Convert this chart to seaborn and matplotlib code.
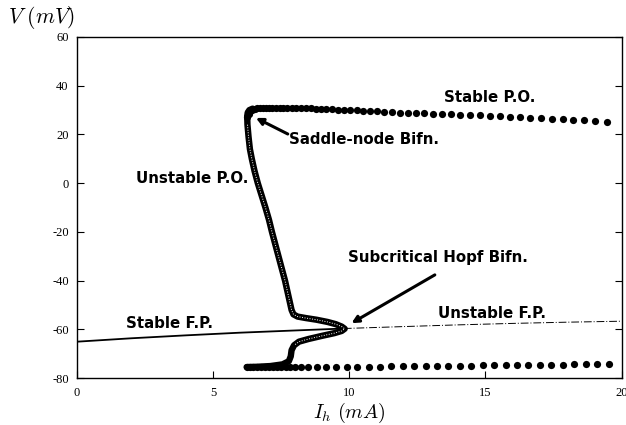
import matplotlib
matplotlib.use("Agg")
import matplotlib.pyplot as plt
import seaborn as sns
import pandas as pd

# Bifurcation data: membrane voltage V (mV) against bias current I_h (mA)

# Stable fixed point branch (up to the Hopf point)
fp_stable_I = [0.0, 2.0, 4.0, 6.0, 8.0, 9.8]
fp_stable_V = [-65.0, -63.6, -62.4, -61.3, -60.4, -59.6]

# Unstable fixed point branch (beyond the Hopf point)
fp_unstable_I = [9.8, 12.0, 14.0, 16.0, 18.0, 20.0]
fp_unstable_V = [-59.6, -58.8, -58.1, -57.5, -57.0, -56.6]

# Unstable periodic orbit: max V from the saddle-node down to the Hopf point,
# then min V back to the lower saddle-node
po_unstable_I = [6.45, 6.33, 6.27, 6.25, 6.26, 6.30, 6.35, 6.42, 6.52, 6.64,
                 6.78, 6.92, 7.05, 7.16, 7.28, 7.40, 7.52, 7.64, 7.74, 7.82,
                 7.88, 7.95, 8.10, 8.40, 8.80, 9.20, 9.50, 9.72, 9.83, 9.72,
                 9.45, 9.00, 8.50, 8.15, 7.97, 7.88, 7.85, 7.78, 7.55, 7.10,
                 6.60, 6.23]
po_unstable_V = [30.6, 30.0, 29.0, 27.5, 24.0, 19.0, 14.0, 10.0, 5.0, 0.0,
                 -5.0, -10.0, -15.0, -20.0, -25.0, -30.0, -35.0, -40.0, -45.0, -49.0,
                 -52.0, -53.8, -54.7, -55.3, -56.0, -56.9, -57.8, -58.8, -59.7, -60.6,
                 -61.5, -62.6, -63.9, -65.0, -66.5, -68.5, -71.0, -73.0, -74.3, -75.0,
                 -75.3, -75.4]

# Stable periodic orbit, maximum voltage
po_max_I = [6.25, 6.30, 6.36, 6.44, 6.52, 6.62, 6.72, 6.82, 6.93, 7.05,
            7.17, 7.30, 7.44, 7.58, 7.73, 7.89, 8.05, 8.22, 8.40, 8.58,
            8.77, 8.96, 9.16, 9.37, 9.58, 9.80, 10.03, 10.27, 10.51, 10.76,
            11.02, 11.29, 11.57, 11.85, 12.14, 12.44, 12.75, 13.07, 13.40, 13.74,
            14.08, 14.43, 14.79, 15.15, 15.52, 15.89, 16.27, 16.65, 17.04, 17.43,
            17.83, 18.23, 18.63, 19.04, 19.45]
po_max_V = [27.0, 28.6, 29.6, 30.2, 30.6, 30.8, 30.9, 31.0, 31.0, 31.0,
            31.0, 31.0, 31.0, 30.9, 30.9, 30.9, 30.8, 30.8, 30.7, 30.7,
            30.6, 30.5, 30.4, 30.3, 30.2, 30.1, 30.0, 29.9, 29.7, 29.6,
            29.5, 29.3, 29.2, 29.0, 28.9, 28.8, 28.7, 28.5, 28.4, 28.2,
            28.1, 27.9, 27.8, 27.6, 27.5, 27.3, 27.1, 26.9, 26.7, 26.5,
            26.3, 26.0, 25.8, 25.5, 25.2]

# Stable periodic orbit, minimum voltage
po_min_I = [6.23, 6.35, 6.48, 6.62, 6.76, 6.90, 7.05, 7.20, 7.35, 7.50,
            7.66, 7.82, 8.02, 8.24, 8.50, 8.80, 9.15, 9.52, 9.90, 10.30,
            10.71, 11.12, 11.54, 11.96, 12.38, 12.80, 13.22, 13.64, 14.06, 14.48,
            14.90, 15.32, 15.74, 16.16, 16.58, 17.00, 17.42, 17.84, 18.26, 18.68,
            19.10, 19.55]
po_min_V = [-75.4, -75.4, -75.4, -75.4, -75.4, -75.4, -75.4, -75.4, -75.4, -75.4,
            -75.4, -75.4, -75.4, -75.4, -75.4, -75.4, -75.4, -75.4, -75.3, -75.3,
            -75.2, -75.2, -75.1, -75.1, -75.0, -75.0, -74.9, -74.9, -74.8, -74.8,
            -74.7, -74.7, -74.6, -74.6, -74.5, -74.5, -74.4, -74.4, -74.3, -74.3,
            -74.2, -74.1]

x_ticks = [0, 5, 10, 15, 20]
y_ticks = [-80, -60, -40, -20, 0, 20, 40, 60]

sns.set_style("ticks")
plt.rcParams["mathtext.fontset"] = "cm"
plt.rcParams["text.color"] = "black"

fig = plt.figure(figsize=(6.26, 4.25), dpi=100)
ax = fig.add_axes([0.123, 0.110, 0.870, 0.803])

fp_s = pd.DataFrame({"I": fp_stable_I, "V": fp_stable_V})
fp_u = pd.DataFrame({"I": fp_unstable_I, "V": fp_unstable_V})
po_u = pd.DataFrame({"I": po_unstable_I, "V": po_unstable_V})
po_hi = pd.DataFrame({"I": po_max_I, "V": po_max_V})
po_lo = pd.DataFrame({"I": po_min_I, "V": po_min_V})

sns.lineplot(data=fp_s, x="I", y="V", sort=False, estimator=None,
             color="black", lw=1.3, ax=ax)
sns.lineplot(data=fp_u, x="I", y="V", sort=False, estimator=None,
             color="black", lw=0.7, ax=ax, dashes=False,
             linestyle=(0, (8, 2, 1, 2)))

# unstable orbit: dense open circles rendered as a dark band with light speckle
sns.lineplot(data=po_u, x="I", y="V", sort=False, estimator=None,
             color="black", lw=4.6, ax=ax, solid_capstyle="round",
             solid_joinstyle="round")
sns.lineplot(data=po_u.iloc[4:35], x="I", y="V", sort=False, estimator=None,
             color="white", lw=0.7, ax=ax, linestyle=(0, (1.0, 1.6)))

sns.scatterplot(data=po_hi, x="I", y="V", color="black", s=27,
                linewidth=0, ax=ax, zorder=3)
sns.scatterplot(data=po_lo, x="I", y="V", color="black", s=27,
                linewidth=0, ax=ax, zorder=3)

ax.set_xlim(0, 20)
ax.set_ylim(-80, 60)
ax.set_xticks(x_ticks)
ax.set_yticks(y_ticks)
ax.set_xticklabels([str(t) for t in x_ticks], family="Liberation Serif", fontsize=9)
ax.set_yticklabels([str(t) for t in y_ticks], family="Liberation Serif", fontsize=9)
ax.tick_params(direction="in", length=5, width=0.8, right=True, top=False,
               pad=6, colors="black")
for sp in ax.spines.values():
    sp.set_visible(True)
    sp.set_linewidth(1.0)
    sp.set_color("black")

ax.set_xlabel(r"$I_h\ (mA)$", fontsize=14.5, labelpad=2, color="black")
ax.set_ylabel("")
fig.text(0.013, 0.958, r"$V\ (mV)$", fontsize=15.5, ha="left", va="center",
         color="black")

lab = dict(fontsize=10.8, fontweight="bold", family="DejaVu Sans",
           ha="center", va="center", color="black")
ax.text(15.16, 35.3, "Stable P.O.", **lab)
ax.text(4.24, 1.9, "Unstable P.O.", **lab)
ax.text(15.25, -53.6, "Unstable F.P.", **lab)
ax.text(3.41, -57.7, "Stable F.P.", **lab)

arrow = dict(arrowstyle="-|>", color="black", lw=2.2, mutation_scale=10,
             shrinkA=0, shrinkB=0)
ax.annotate("", xy=(6.57, 26.8), xytext=(7.74, 20.2), arrowprops=arrow)
ax.text(7.8, 17.8, "Saddle-node Bifn.", **dict(lab, ha="left"))
ax.annotate("", xy=(10.08, -57.4), xytext=(13.14, -37.6), arrowprops=arrow)
ax.text(13.24, -30.4, "Subcritical Hopf Bifn.", **lab)

fig.savefig("out.png", dpi=100)
